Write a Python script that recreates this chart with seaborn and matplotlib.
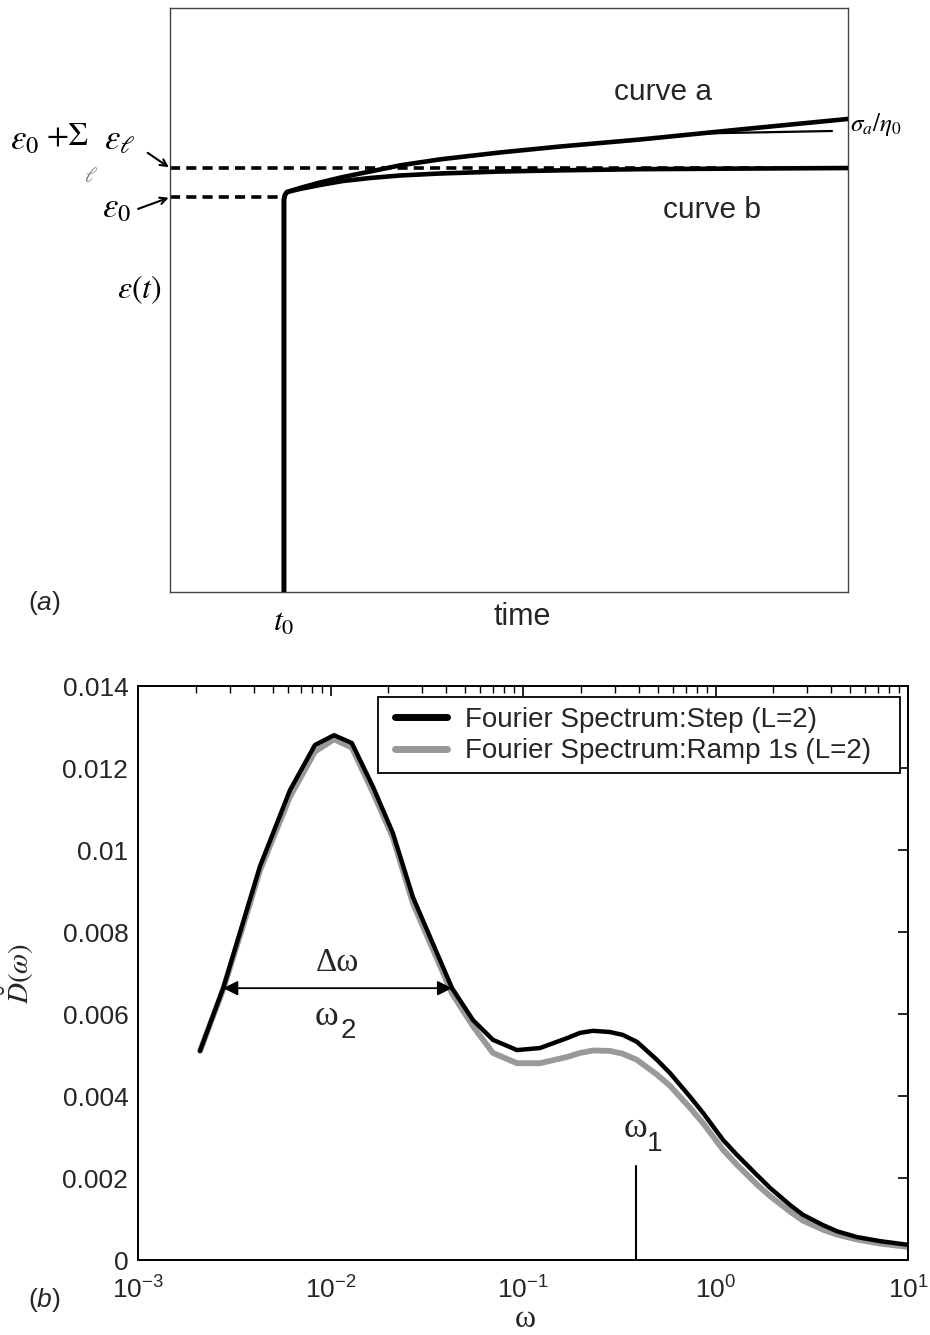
import numpy as np
import pandas as pd
import matplotlib
matplotlib.use("Agg")
import matplotlib.pyplot as plt
import matplotlib.patches as mpatches
import seaborn as sns
from matplotlib.ticker import LogLocator, FixedLocator, FixedFormatter, NullFormatter

# ---------------- data ----------------
# Panel (a): schematic creep curves (arbitrary units, 0-100)
a_time = [16.81, 16.81, 16.96, 17.26, 19.17, 22.12, 25.52, 29.50, 33.92, 39.82,
          48.67, 57.52, 69.32, 84.07, 100.0]
a_curve_a = [0.0, 67.29, 67.98, 68.49, 69.18, 70.12, 71.06, 72.0, 73.05, 74.08,
             75.26, 76.28, 77.48, 79.20, 81.0]
a_curve_b = [0.0, 67.29, 67.98, 68.49, 69.01, 69.69, 70.38, 70.89, 71.32, 71.66,
             72.0, 72.2, 72.4, 72.5, 72.6]
a_thin_t = [78.17, 97.64]
a_thin_y = [78.51, 78.94]
eps0 = 67.6
eps_sum = 72.6
t0 = 16.7

# Panel (b): Fourier spectra
omega = [0.0021, 0.00277, 0.00382, 0.0043, 0.00616, 0.0083, 0.01043, 0.0129,
         0.01663, 0.0211, 0.0268, 0.0428, 0.055, 0.0698, 0.093, 0.1225, 0.169,
         0.198, 0.231, 0.283, 0.330, 0.391, 0.497, 0.580, 0.738, 0.861, 1.094,
         1.294, 1.644, 1.919, 2.44, 2.85, 3.62, 4.28, 5.43, 7.16, 10.0]
D_step = [0.0051, 0.00663, 0.0088, 0.0096, 0.01146, 0.01256, 0.0128, 0.01261,
          0.01154, 0.01041, 0.00885, 0.00663, 0.00585, 0.00537, 0.00512, 0.00517,
          0.00541, 0.00554, 0.00559, 0.00556, 0.00549, 0.00532, 0.00488, 0.00456,
          0.00398, 0.00359, 0.00293, 0.00256, 0.00207, 0.00176, 0.00134, 0.0011,
          0.00085, 0.0007, 0.00056, 0.00046, 0.00037]
D_ramp = [0.0051, 0.0066, 0.0087, 0.0095, 0.0113, 0.0124, 0.0127, 0.0125,
          0.0114, 0.0103, 0.0087, 0.0065, 0.0057, 0.00505, 0.0048, 0.0048,
          0.00495, 0.00505, 0.00511, 0.0051, 0.00503, 0.00488, 0.00452, 0.00425,
          0.00371, 0.00334, 0.00269, 0.00232, 0.00184, 0.00156, 0.00118, 0.00096,
          0.00074, 0.00062, 0.0005, 0.0004, 0.00032]
series_names = ["Fourier Spectrum:Step (L=2)", "Fourier Spectrum:Ramp 1s (L=2)"]
yticks_b = [0, 0.002, 0.004, 0.006, 0.008, 0.01, 0.012, 0.014]
ytick_labels_b = ["0", "0.002", "0.004", "0.006", "0.008", "0.01", "0.012", "0.014"]
omega1 = 0.386
omega1_top = 0.0023
dw_left, dw_right, dw_level = 0.00277, 0.0428, 0.00663

# ---------------- style ----------------
sns.set_theme(style="white")
plt.rcParams["font.family"] = ["Liberation Sans", "DejaVu Sans"]
plt.rcParams["mathtext.fontset"] = "stix"
plt.rcParams["mathtext.rm"] = "Liberation Sans"
plt.rcParams["mathtext.it"] = "Liberation Sans:italic"
plt.rcParams["mathtext.bf"] = "Liberation Sans:bold"
plt.rcParams["axes.unicode_minus"] = False

W, H = 930, 1335
fig = plt.figure(figsize=(W / 100, H / 100), dpi=100)

def fx(px):
    return px / W

def fy(py):
    return 1 - py / H

SERIF = ["Liberation Serif", "DejaVu Serif"]

# ---------------- panel (a) ----------------
axa = fig.add_axes([fx(170), fy(592), (848 - 170) / W, (592 - 8) / H])
dfa = pd.DataFrame({"t": a_time, "a": a_curve_a, "b": a_curve_b})
dash = (0, (2.8, 1.7))
axa.plot([0, 100], [eps_sum, eps_sum], color="black", lw=2.6, ls=dash, zorder=2)
axa.plot([0, t0], [eps0, eps0], color="black", lw=2.6, ls=dash, zorder=2)
sns.lineplot(data=dfa, x="t", y="a", sort=False, estimator=None, color="black",
             lw=3.3, ax=axa, zorder=3)
sns.lineplot(data=dfa, x="t", y="b", sort=False, estimator=None, color="black",
             lw=3.3, ax=axa, zorder=3)
sns.lineplot(x=a_thin_t, y=a_thin_y, sort=False, estimator=None, color="black",
             lw=1.6, ax=axa, zorder=3)
axa.set_xlim(0, 100)
axa.set_ylim(0, 100)
axa.set_xticks([])
axa.set_yticks([])
axa.set_xlabel("")
axa.set_ylabel("")
for s in axa.spines.values():
    s.set_color("#444444")
    s.set_linewidth(1.0)

serif = dict(math_fontfamily="stix", color="black")
fig.text(fx(10), fy(140), r"$\varepsilon_0$", fontsize=25, va="center", ha="left", **serif)
fig.text(fx(46), fy(137), r"$+\Sigma$", fontsize=23, va="center", ha="left", **serif)
fig.text(fx(104), fy(140), r"$\varepsilon_\ell$", fontsize=25, va="center", ha="left", **serif)
fig.text(fx(91), fy(176), r"$\ell$", fontsize=15, va="center", ha="center", color="#777777",
         math_fontfamily="stix")
fig.text(fx(102), fy(208), r"$\varepsilon_0$", fontsize=25, va="center", ha="left", **serif)
fig.text(fx(117), fy(290), r"$\varepsilon(t)$", fontsize=23, va="center", ha="left", **serif)
fig.text(fx(284), fy(623), r"$t_0$", fontsize=23, va="center", ha="center", **serif)
fig.text(fx(850), fy(125), r"$\sigma_a/\eta_0$", fontsize=18, va="center", ha="left", **serif)
fig.text(fx(522), fy(617), "time", fontsize=22, va="center", ha="center")
fig.text(fx(663), fy(92), "curve a", fontsize=21.5, va="center", ha="center")
fig.text(fx(712), fy(210), "curve b", fontsize=21.5, va="center", ha="center")
fig.text(fx(44), fy(603), r"$(\mathit{a})$", fontsize=19, va="center", ha="center",
         math_fontfamily="custom")

axa.annotate("", xy=(0, eps_sum), xytext=(-3.3, eps_sum + 2.6), xycoords="data",
             arrowprops=dict(arrowstyle="->", color="black", lw=1.5, shrinkA=0, shrinkB=1),
             annotation_clip=False)
axa.annotate("", xy=(0, eps0), xytext=(-4.7, eps0 - 2.0), xycoords="data",
             arrowprops=dict(arrowstyle="->", color="black", lw=1.5, shrinkA=0, shrinkB=1),
             annotation_clip=False)

# ---------------- panel (b) ----------------
AX_L, AX_R, AX_T, AX_B = 138, 908, 686, 1260
axb = fig.add_axes([fx(AX_L), fy(AX_B), (AX_R - AX_L) / W, (AX_B - AX_T) / H])
dfb = pd.DataFrame({
    "omega": omega * 2,
    "D": D_step + D_ramp,
    "series": [series_names[0]] * len(omega) + [series_names[1]] * len(omega),
})
sns.lineplot(data=dfb[dfb.series == series_names[1]], x="omega", y="D", color="#999999",
             lw=4.2, ax=axb, label=series_names[1], zorder=2, estimator=None)
sns.lineplot(data=dfb[dfb.series == series_names[0]], x="omega", y="D", color="black",
             lw=3.2, ax=axb, label=series_names[0], zorder=3, estimator=None)
axb.set_xscale("log")
axb.set_xlim(1e-3, 1e1)
axb.set_ylim(0, 0.014)
axb.yaxis.set_major_locator(FixedLocator(yticks_b))
axb.yaxis.set_major_formatter(FixedFormatter(ytick_labels_b))
axb.xaxis.set_major_locator(LogLocator(base=10, numticks=10))
axb.xaxis.set_minor_locator(LogLocator(base=10, subs=np.arange(2, 10), numticks=20))
axb.xaxis.set_minor_formatter(NullFormatter())
axb.tick_params(axis="both", which="both", direction="in", top=True, right=True,
                color="black", labelsize=19)
axb.tick_params(axis="both", which="major", length=7, width=1.2)
axb.tick_params(axis="x", which="minor", length=5, width=1.0)
axb.tick_params(axis="x", which="major", pad=12)
axb.tick_params(axis="y", which="major", pad=7)
for s in axb.spines.values():
    s.set_color("black")
    s.set_linewidth(1.4)

axb.set_xlabel("ω", fontsize=23, family=SERIF)
axb.xaxis.set_label_coords(0.503, -0.078)
axb.set_ylabel(r"$\breve{D}(\omega)$", fontsize=21, math_fontfamily="stix")
axb.yaxis.set_label_coords(-0.132, 0.5)

# legend (frame drawn separately to match the wider padding of the original)
def ax_x(px):
    return (px - AX_L) / (AX_R - AX_L)

def ax_y(py):
    return (AX_B - py) / (AX_B - AX_T)

handles, labels = axb.get_legend_handles_labels()
order = [labels.index(series_names[0]), labels.index(series_names[1])]
leg = axb.legend([handles[i] for i in order], [labels[i] for i in order],
                 loc="upper left", bbox_to_anchor=(ax_x(385), ax_y(697)), borderaxespad=0,
                 fontsize=20, frameon=False, handlelength=1.87, handletextpad=0.65,
                 labelspacing=0.2, borderpad=0.35)
leg.set_zorder(6)
for lh in leg.get_lines():
    lh.set_linewidth(5)
frame = mpatches.Rectangle((ax_x(378), ax_y(773)), ax_x(900) - ax_x(378),
                           ax_y(697) - ax_y(773), transform=axb.transAxes,
                           facecolor="white", edgecolor="black", lw=1.3, zorder=5)
axb.add_patch(frame)

# annotations in (b)
axb.annotate("", xy=(dw_left, dw_level), xytext=(dw_right, dw_level),
             arrowprops=dict(arrowstyle="<|-|>", color="black", lw=1.3,
                             mutation_scale=22, shrinkA=0, shrinkB=0))
axb.text(0.0108, 0.00724, "Δω", fontsize=24, ha="center", va="center", family=SERIF)
axb.text(0.0095, 0.00594, "ω", fontsize=26, ha="center", va="center", family=SERIF)
axb.text(0.0124, 0.00558, "2", fontsize=20, ha="center", va="center")
axb.plot([omega1, omega1], [0, omega1_top], color="black", lw=1.5)
axb.text(0.383, 0.00320, "ω", fontsize=26, ha="center", va="center", family=SERIF)
axb.text(0.485, 0.00283, "1", fontsize=20, ha="center", va="center")

fig.text(fx(44), fy(1300), r"$(\mathit{b})$", fontsize=19, va="center", ha="center",
         math_fontfamily="custom")

fig.savefig("out.png", dpi=100)
